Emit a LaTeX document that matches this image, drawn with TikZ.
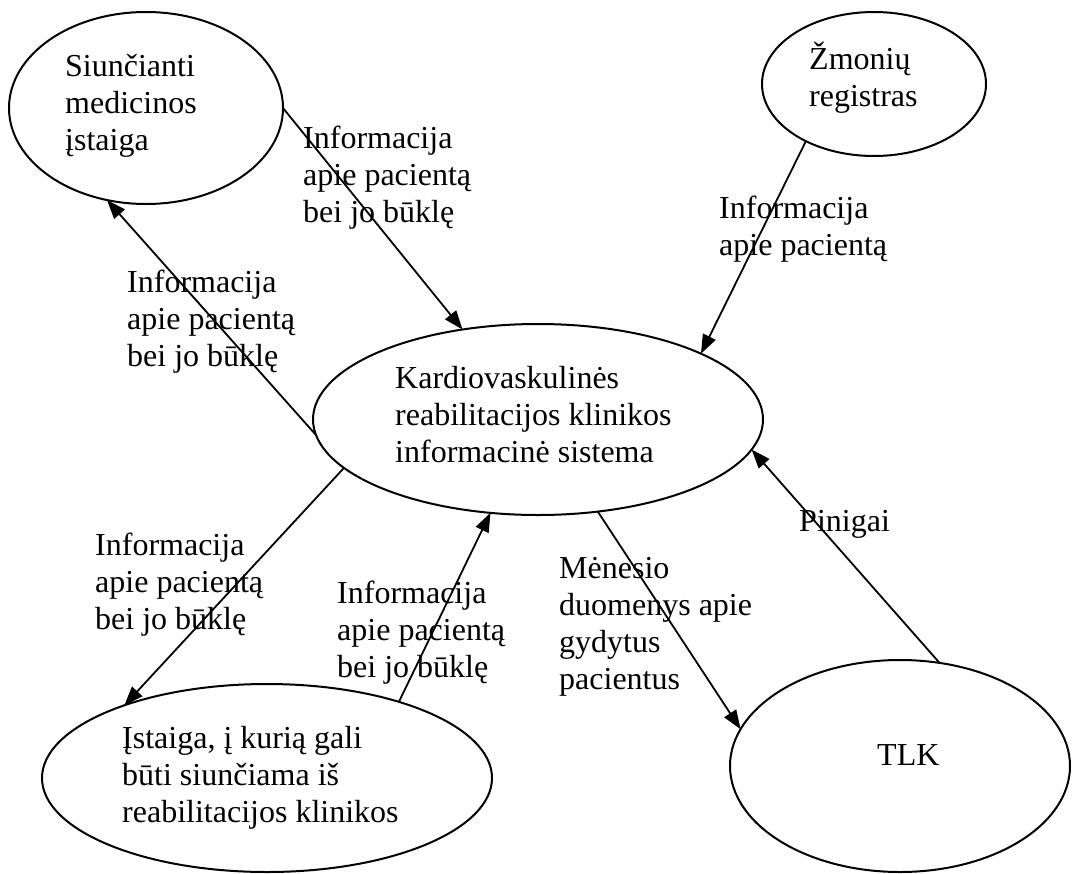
\documentclass[tikz,border=0pt]{standalone}
\usepackage{fontspec}
\setmainfont{Liberation Serif}
\usetikzlibrary{shapes.geometric,arrows.meta}
\newcommand{\mylines}[1]{\begin{tabular}[t]{@{}l@{}}#1\end{tabular}}
\begin{document}
\begin{tikzpicture}[x=1pt,y=-1pt,
  proc/.style={draw,ellipse,line width=2pt,inner sep=0pt,outer sep=0pt},
  txt/.style={anchor=base west,inner sep=0pt,font=\fontsize{32}{37}\selectfont},
  flow/.style={line width=1.8pt,-{Triangle[length=19pt,width=14pt]}}]
\useasboundingbox (0,0) rectangle (1073,873);
% ellipses
\node[proc,minimum width=274pt,minimum height=192pt] (A) at (146,108) {};
\node[proc,minimum width=224pt,minimum height=144pt] (B) at (874,84) {};
\node[proc,minimum width=450pt,minimum height=191pt] (C) at (538,419.5) {};
\node[proc,minimum width=450pt,minimum height=188pt] (D) at (267,778) {};
\node[proc,minimum width=340pt,minimum height=212pt] (E) at (900,766) {};
% ellipse texts
\node[txt] (tA) at (65,76) {\mylines{Siunčianti\\medicinos\\įstaiga}};
\node[txt] (tB) at (809,69) {\mylines{Žmonių\\registras}};
\node[txt] (tC) at (395,388) {\mylines{Kardiovaskulinės\\reabilitacijos klinikos\\informacinė sistema}};
\node[txt] (tD) at (122,748) {\mylines{Įstaiga, į kurią gali\\būti siunčiama iš\\reabilitacijos klinikos}};
\node[txt] (tE) at (877,765) {TLK};
% connectors
\draw[flow] (A.0) -- (C.130);
\draw[flow] (C.184.8) -- (A.247.6);
\draw[flow] (B.220.7) -- (C.22.4);
\draw[flow] (C.194.4) -- (D.153.8);
\draw[flow] (D.30.8) -- (C.243.3);
\draw[flow] (C.303.6) -- (E.167.1);
\draw[flow] (E.69.6) -- (C.352.8);
% connector labels
\node[txt] (l1) at (303,148) {\mylines{Informacija\\apie pacientą\\bei jo būklę}};
\node[txt] (l2) at (127,292) {\mylines{Informacija\\apie pacientą\\bei jo būklę}};
\node[txt] (l3) at (719,218) {\mylines{Informacija\\apie pacientą}};
\node[txt] (l4) at (95,555) {\mylines{Informacija\\apie pacientą\\bei jo būklę}};
\node[txt] (l5) at (337,603) {\mylines{Informacija\\apie pacientą\\bei jo būklę}};
\node[txt] (l6) at (559,578) {\mylines{Mėnesio\\duomenys apie\\gydytus\\pacientus}};
\node[txt] (l7) at (799,531) {Pinigai};
\end{tikzpicture}
\end{document}
